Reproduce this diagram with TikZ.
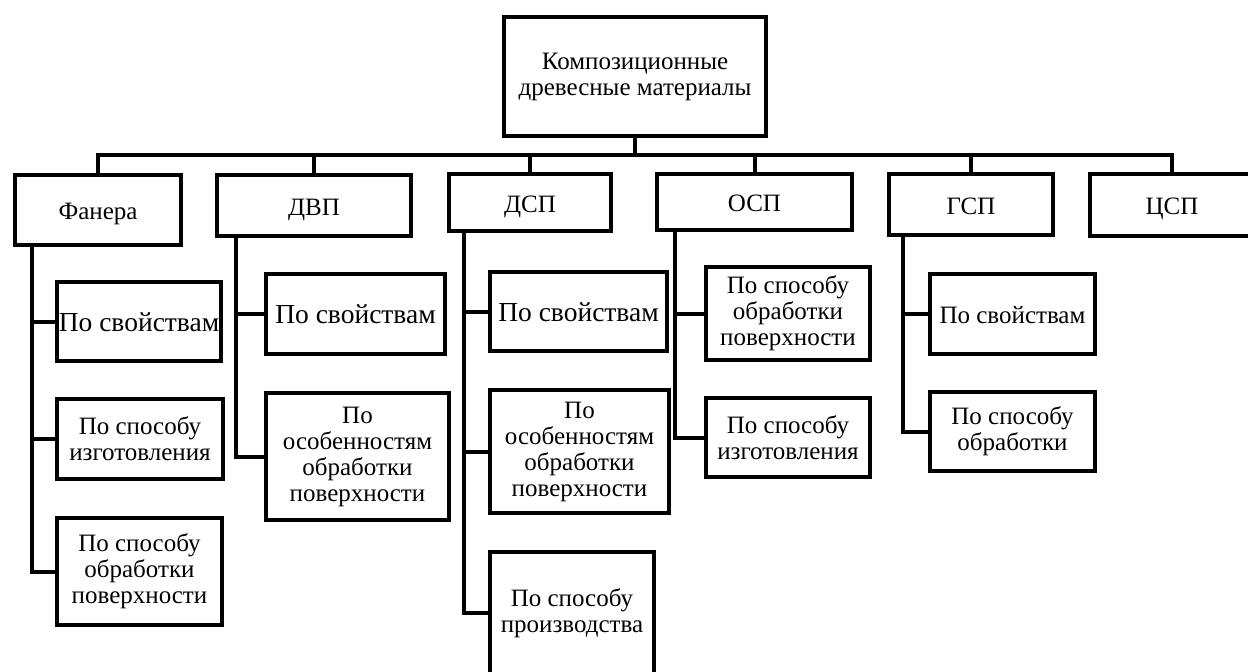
\documentclass[tikz,border=0pt]{standalone}
\usepackage{fontspec}
\setmainfont{Liberation Serif}
\begin{document}
\begin{tikzpicture}[x=1pt,y=-1pt,
  box/.style={draw=black,line width=4pt,align=center,inner sep=0pt,font=\fontsize{25}{26}\selectfont},
  oneline/.style={text height=24pt,text depth=5pt},
  big/.style={font=\fontsize{27.5}{28}\selectfont},
  link/.style={line width=4pt}]

%FRAME
\useasboundingbox (0,0) rectangle (1248,672);
\clip (0,0) rectangle (1248,672);
%FRAME

\node[box,minimum width=262,minimum height=119](v1) at (635,76.5) {Композиционные\\древесные материалы};

\node[box,oneline,minimum width=166,minimum height=70](v2) at (98,210) {Фанера};
\node[box,oneline,minimum width=194,minimum height=61](v3) at (314,205.5) {ДВП};
\node[box,oneline,minimum width=162,minimum height=57](v4) at (530,202.5) {ДСП};
\node[box,oneline,minimum width=195,minimum height=56](v5) at (754.5,202) {ОСП};
\node[box,oneline,minimum width=164,minimum height=61](v6) at (971,204.5) {ГСП};
\node[box,oneline,minimum width=164,minimum height=62](v7) at (1172,205) {ЦСП};

\node[box,big,oneline,minimum width=164,minimum height=79](v8) at (139,321.5) {По свойствам};
\node[box,minimum width=166,minimum height=80](v9) at (140,439) {По способу\\изготовления};
\node[box,minimum width=165,minimum height=107](v10) at (139.5,571.5) {По способу\\обработки\\поверхности};

\node[box,big,oneline,minimum width=179,minimum height=80](v11) at (355.5,314) {По свойствам};
\node[box,minimum width=183,minimum height=127](v12) at (357.5,456.5) {По\\особенностям\\обработки\\поверхности};

\node[box,big,oneline,minimum width=177,minimum height=79](v13) at (578.5,311.5) {По свойствам};
\node[box,minimum width=179,minimum height=123](v14) at (579.5,451.5) {По\\особенностям\\обработки\\поверхности};
\node[box,minimum width=164,minimum height=122](v15) at (572,613) {По способу\\производства};

\node[box,minimum width=164,minimum height=93](v16) at (788,313.5) {По способу\\обработки\\поверхности};
\node[box,minimum width=164,minimum height=79](v17) at (788,437.5) {По способу\\изготовления};

\node[box,oneline,minimum width=165,minimum height=80](v18) at (1012.5,314) {По свойствам};
\node[box,minimum width=165,minimum height=79](v19) at (1012.5,431.5) {По способу\\обработки};

\coordinate (bus) at (635,155);

\draw[link] (v1.south) -- (v1.south |- bus) -| (v2.north);
\draw[link] (v1.south) -- (v1.south |- bus) -| (v3.north);
\draw[link] (v1.south) -- (v1.south |- bus) -| (v4.north);
\draw[link] (v1.south) -- (v1.south |- bus) -| (v5.north);
\draw[link] (v1.south) -- (v1.south |- bus) -| (v6.north);
\draw[link] (v1.south) -- (v1.south |- bus) -| (v7.north);

\draw[link] ([xshift=19pt]v2.south west) |- (v8.west);
\draw[link] ([xshift=19pt]v2.south west) |- (v9.west);
\draw[link] ([xshift=19pt]v2.south west) |- (v10.west);

\draw[link] ([xshift=21pt]v3.south west) |- (v11.west);
\draw[link] ([xshift=21pt]v3.south west) |- (v12.west);

\draw[link] ([xshift=17pt]v4.south west) |- (v13.west);
\draw[link] ([xshift=17pt]v4.south west) |- (v14.west);
\draw[link] ([xshift=17pt]v4.south west) |- (v15.west);

\draw[link] ([xshift=20pt]v5.south west) |- (v16.west);
\draw[link] ([xshift=20pt]v5.south west) |- (v17.west);

\draw[link] ([xshift=16pt]v6.south west) |- (v18.west);
\draw[link] ([xshift=16pt]v6.south west) |- (v19.west);

\end{tikzpicture}
\end{document}
